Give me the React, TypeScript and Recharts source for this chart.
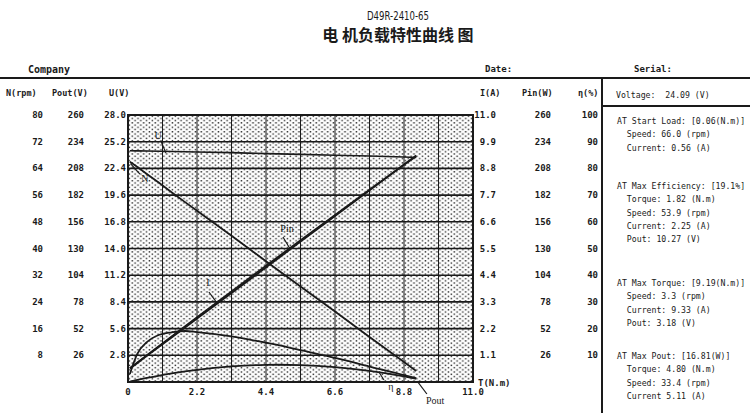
import React from 'react';
import {
  ComposedChart, Line, XAxis, YAxis, ReferenceArea, ReferenceLine, ReferenceDot,
} from 'recharts';

// ---- data ----
const torque = [0.06, 0.3, 0.6, 1.0, 1.4, 1.82, 2.2, 3.3, 4.4, 4.8, 5.5, 6.6, 7.7, 8.8, 9.19];
const speed = [66.0, 64.4, 62.3, 59.6, 56.8, 53.9, 51.3, 43.8, 36.2, 33.4, 28.6, 21.1, 13.5, 6.0, 3.3];
const current = [0.56, 0.79, 1.08, 1.46, 1.85, 2.25, 2.62, 3.67, 4.73, 5.11, 5.79, 6.84, 7.9, 8.96, 9.33];
const voltage = [24.25, 24.24, 24.22, 24.2, 24.17, 24.15, 24.12, 24.05, 23.95, 23.92, 23.87, 23.78, 23.7, 23.6, 23.55];
const pout = [0.41, 2.02, 3.91, 6.24, 8.33, 10.27, 11.82, 15.12, 16.68, 16.81, 16.5, 14.58, 10.92, 5.53, 3.18];
const pin = [13.6, 19.1, 26.2, 35.3, 44.7, 54.3, 63.2, 88.3, 113.3, 122.2, 138.2, 162.7, 187.2, 211.5, 219.7];
const efficiency = [3.0, 10.6, 14.9, 17.7, 18.6, 19.1, 18.7, 17.1, 14.7, 13.8, 11.9, 9.0, 5.8, 2.6, 1.4];

// ---- axis ticks ----
const torqueTicks = [0, 2.2, 4.4, 6.6, 8.8, 11.0];
const torqueGrid = [1.1, 2.2, 3.3, 4.4, 5.5, 6.6, 7.7, 8.8, 9.9];
const speedTicks = [8, 16, 24, 32, 40, 48, 56, 64, 72, 80];
const poutTicks = [26, 52, 78, 104, 130, 156, 182, 208, 234, 260];
const voltTicks = [2.8, 5.6, 8.4, 11.2, 14.0, 16.8, 19.6, 22.4, 25.2, 28.0];
const voltGrid = [2.8, 5.6, 8.4, 11.2, 14.0, 16.8, 19.6, 22.4, 25.2];
const currentTicks = [1.1, 2.2, 3.3, 4.4, 5.5, 6.6, 7.7, 8.8, 9.9, 11.0];
const pinTicks = [26, 52, 78, 104, 130, 156, 182, 208, 234, 260];
const effTicks = [10, 20, 30, 40, 50, 60, 70, 80, 90, 100];

// ---- curve annotations (label + pointer), in torque / U-axis units ----
const annoNames = ['U', 'N', 'I', 'Pin', 'η', 'Pout'];
const annoLabelT = [0.96, 0.54, 2.55, 5.07, 8.38, 9.79];
const annoLabelU = [25.9, 21.3, 10.4, 16.1, -0.42, -1.89];
const annoFromT = [1.21, 0.08, 2.84, 5.17, 8.0, 9.22];
const annoFromU = [24.0, 22.9, 8.28, 13.95, 1.05, 0.1];
const annoToT = [1.05, 0.38, 2.58, 4.94, 8.16, 9.53];
const annoToU = [25.27, 21.8, 9.44, 15.2, 0.21, -1.26];

// ---- info panel text ----
const panelGroups: string[][] = [
  ['AT Start Load: [0.06(N.m)]', '  Speed: 66.0 (rpm)', '  Current: 0.56 (A)'],
  ['AT Max Efficiency: [19.1%]', '  Torque: 1.82 (N.m)', '  Speed: 53.9 (rpm)', '  Current: 2.25 (A)', '  Pout: 10.27 (V)'],
  ['AT Max Torque: [9.19(N.m)]', '  Speed: 3.3 (rpm)', '  Current: 9.33 (A)', '  Pout: 3.18 (V)'],
  ['AT Max Pout: [16.81(W)]', '  Torque: 4.80 (N.m)', '  Speed: 33.4 (rpm)', '  Current 5.11 (A)'],
];
const panelTops = [124, 189, 286, 359];

const rows = torque.map((t, i) => ({
  torque: t,
  speed: speed[i],
  current: current[i],
  voltage: voltage[i],
  pout: pout[i],
  pin: pin[i],
  eff: efficiency[i],
}));

const MONO = '"DejaVu Sans Mono", "Liberation Mono", monospace';
const INK = '#1a1a1a';

// axis ids: alphabetical order decides nesting (first = closest to the plot)
const AX_U = 'a_U';
const AX_POUT = 'b_Pout';
const AX_N = 'c_N';
const AX_I = 'a_I';
const AX_PIN = 'b_Pin';
const AX_Q = 'c_Q';

function AxisTick(props: any) {
  const { x, y, payload, anchor, fmt, dy } = props;
  return (
    <text x={x} y={y} dy={dy} textAnchor={anchor} fontSize={9} fontFamily={MONO}
      fontWeight="bold" fill={INK}>
      {fmt(payload.value)}
    </text>
  );
}

const f1 = (v: number) => v.toFixed(1);
const f0 = (v: number) => String(Math.round(v));
const fx = (v: number) => (v === 0 ? '0' : v.toFixed(1));

export default function App() {
  return (
    <div style={{ position: 'absolute', left: 0, top: 0, width: 750, height: 413, background: '#fff', overflow: 'hidden' }}>
      <ComposedChart width={750} height={413} data={rows}
        margin={{ top: 115, right: 140, bottom: 6, left: 0 }}>
        <defs>
          <pattern id="dots" patternUnits="userSpaceOnUse" x={128} y={115} width={5.75} height={4.45}>
            <rect x={0.6} y={0.5} width={1.5} height={1.4} fill="#2a2a2a" />
            <rect x={3.5} y={2.7} width={1.5} height={1.4} fill="#2a2a2a" />
          </pattern>
        </defs>
        <XAxis dataKey="torque" type="number" domain={[0, 11]} ticks={torqueTicks} interval={0}
          allowDataOverflow axisLine={false} tickLine={false} tickSize={0} tickMargin={7} height={25}
          tick={<AxisTick anchor="middle" fmt={fx} dy={6} />} />
        <YAxis yAxisId={AX_U} orientation="left" type="number" domain={[0, 28]} ticks={voltTicks} interval={0}
          allowDataOverflow width={42} axisLine={false} tickLine={false} tickSize={0} tickMargin={2}
          tick={<AxisTick anchor="end" fmt={f1} dy={3} />} />
        <YAxis yAxisId={AX_POUT} orientation="left" type="number" domain={[0, 260]} ticks={poutTicks} interval={0}
          allowDataOverflow width={41} axisLine={false} tickLine={false} tickSize={0} tickMargin={2}
          tick={<AxisTick anchor="end" fmt={f0} dy={3} />} />
        <YAxis yAxisId={AX_N} orientation="left" type="number" domain={[0, 80]} ticks={speedTicks} interval={0}
          allowDataOverflow width={45} axisLine={false} tickLine={false} tickSize={0} tickMargin={2}
          tick={<AxisTick anchor="end" fmt={f0} dy={3} />} />
        <YAxis yAxisId={AX_I} orientation="right" type="number" domain={[0, 11]} ticks={currentTicks} interval={0}
          allowDataOverflow width={40} axisLine={false} tickLine={false} tickSize={0} tickMargin={23}
          tick={<AxisTick anchor="end" fmt={f1} dy={3} />} />
        <YAxis yAxisId={AX_PIN} orientation="right" type="number" domain={[0, 260]} ticks={pinTicks} interval={0}
          allowDataOverflow width={47} axisLine={false} tickLine={false} tickSize={0} tickMargin={38}
          tick={<AxisTick anchor="end" fmt={f0} dy={3} />} />
        <YAxis yAxisId={AX_Q} orientation="right" type="number" domain={[0, 100]} ticks={effTicks} interval={0}
          allowDataOverflow width={50} axisLine={false} tickLine={false} tickSize={0} tickMargin={38}
          tick={<AxisTick anchor="end" fmt={f0} dy={3} />} />

        <ReferenceArea yAxisId={AX_U} x1={0} x2={11} y1={0} y2={28} fill="url(#dots)" fillOpacity={1}
          stroke="none" ifOverflow="visible" />
        {torqueGrid.map((t) => (
          <ReferenceLine key={'vx' + t} yAxisId={AX_U} x={t} stroke={INK} strokeWidth={1} ifOverflow="visible" />
        ))}
        {voltGrid.map((u) => (
          <ReferenceLine key={'hy' + u} yAxisId={AX_U} y={u} stroke={INK} strokeWidth={1.6} ifOverflow="visible" />
        ))}
        <ReferenceArea yAxisId={AX_U} x1={0} x2={11} y1={0} y2={28} fill="none"
          stroke={INK} strokeWidth={2} ifOverflow="visible" />

        <Line yAxisId={AX_U} dataKey="voltage" type="linear" stroke={INK} strokeWidth={1.6} dot={false} isAnimationActive={false} />
        <Line yAxisId={AX_N} dataKey="speed" type="linear" stroke={INK} strokeWidth={1.8} dot={false} isAnimationActive={false} />
        <Line yAxisId={AX_I} dataKey="current" type="linear" stroke={INK} strokeWidth={2} dot={false} isAnimationActive={false} />
        <Line yAxisId={AX_PIN} dataKey="pin" type="linear" stroke={INK} strokeWidth={1.6} dot={false} isAnimationActive={false} />
        <Line yAxisId={AX_Q} dataKey="eff" type="monotone" stroke={INK} strokeWidth={1.8} dot={false} isAnimationActive={false} />
        <Line yAxisId={AX_POUT} dataKey="pout" type="monotone" stroke={INK} strokeWidth={1.8} dot={false} isAnimationActive={false} />

        {annoNames.map((n, i) => (
          <ReferenceLine key={'al' + n} yAxisId={AX_U} ifOverflow="visible" stroke={INK} strokeWidth={1.2}
            segment={[{ x: annoFromT[i], y: annoFromU[i] }, { x: annoToT[i], y: annoToU[i] }]} />
        ))}
        {annoNames.map((n, i) => (
          <ReferenceDot key={'ad' + n} yAxisId={AX_U} x={annoLabelT[i]} y={annoLabelU[i]} r={0}
            fill="none" stroke="none" ifOverflow="visible"
            label={{ value: n, position: 'center', fill: INK, fontSize: 10, fontFamily: '"Liberation Serif", serif' }} />
        ))}
      </ComposedChart>

      <svg width={750} height={413} style={{ position: 'absolute', left: 0, top: 0, pointerEvents: 'none' }}>
        <text x={398} y={20} textAnchor="middle" fontSize={12} fontFamily='"DejaVu Sans", sans-serif'
          fill={INK} textLength={62} lengthAdjust="spacingAndGlyphs">D49R-2410-65</text>
        <text x={398} y={41} textAnchor="middle" fontSize={16} fontFamily='"Noto Sans CJK SC", sans-serif'
          fontWeight={600} fill={INK}>电 机负载特性曲线 图</text>

        <text x={28} y={73} fontSize={10} fontFamily={MONO} fontWeight="bold" fill={INK}>Company</text>
        <text x={485} y={72} fontSize={9} fontFamily={MONO} fontWeight="bold" fill={INK}>Date:</text>
        <text x={634} y={72} fontSize={9} fontFamily={MONO} fontWeight="bold" fill={INK}>Serial:</text>
        <line x1={0} y1={78} x2={750} y2={78} stroke={INK} strokeWidth={2} />

        <text y={96} fontSize={8.5} fontFamily={MONO} fontWeight="bold" fill={INK}>
          <tspan x={6}>N(rpm)</tspan>
          <tspan x={52}>Pout(V)</tspan>
          <tspan x={109}>U(V)</tspan>
          <tspan x={480}>I(A)</tspan>
          <tspan x={522}>Pin(W)</tspan>
          <tspan x={578}>η(%)</tspan>
        </text>
        <text x={616} y={98} fontSize={8.2} fontFamily={MONO} fill={INK} xmlSpace="preserve">Voltage:  24.09 (V)</text>
        <line x1={602} y1={77} x2={602} y2={413} stroke={INK} strokeWidth={2} />
        <line x1={602} y1={106} x2={750} y2={106} stroke={INK} strokeWidth={2} />

        <text x={478} y={386} fontSize={9} fontFamily={MONO} fontWeight="bold" fill={INK}>T(N.m)</text>

        {panelGroups.map((g, gi) =>
          g.map((line, li) => (
            <text key={gi + '-' + li} x={617} y={panelTops[gi] + li * 13.3} fontSize={8.2}
              fontFamily={MONO} fill={INK} xmlSpace="preserve" style={{ whiteSpace: 'pre' }}>{line}</text>
          ))
        )}
      </svg>
    </div>
  );
}
